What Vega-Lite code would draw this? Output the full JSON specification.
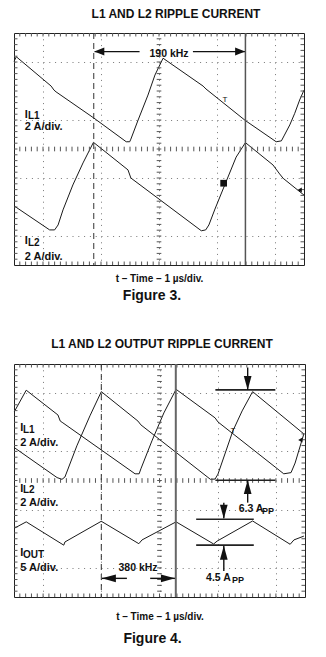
{
"$schema": "https://vega.github.io/schema/vega-lite/v6.json",
"padding": {"left": 11, "top": 7, "right": 4, "bottom": 4},
"spacing": 34,
"resolve": {"scale": {"x": "independent", "y": "independent", "shape": "independent"}},
"config": {"font": "Liberation Sans", "view": {"stroke": "#222", "strokeWidth": 1}},
"datasets": {
"xt": [{"v":0.2},{"v":0.4},{"v":0.6},{"v":0.8},{"v":1},{"v":1.2},{"v":1.4},{"v":1.6},{"v":1.8},{"v":2},{"v":2.2},{"v":2.4},{"v":2.6},{"v":2.8},{"v":3},{"v":3.2},{"v":3.4},{"v":3.6},{"v":3.8},{"v":4},{"v":4.2},{"v":4.4},{"v":4.6},{"v":4.8},{"v":5},{"v":5.2},{"v":5.4},{"v":5.6},{"v":5.8},{"v":6},{"v":6.2},{"v":6.4},{"v":6.6},{"v":6.8},{"v":7},{"v":7.2},{"v":7.4},{"v":7.6},{"v":7.8},{"v":8},{"v":8.2},{"v":8.4},{"v":8.6},{"v":8.8},{"v":9},{"v":9.2},{"v":9.4},{"v":9.6},{"v":9.8}],
"yt": [{"v":-3.8},{"v":-3.6},{"v":-3.4},{"v":-3.2},{"v":-3},{"v":-2.8},{"v":-2.6},{"v":-2.4},{"v":-2.2},{"v":-2},{"v":-1.8},{"v":-1.6},{"v":-1.4},{"v":-1.2},{"v":-1},{"v":-0.8},{"v":-0.6},{"v":-0.4},{"v":-0.2},{"v":0},{"v":0.2},{"v":0.4},{"v":0.6},{"v":0.8},{"v":1},{"v":1.2},{"v":1.4},{"v":1.6},{"v":1.8},{"v":2},{"v":2.2},{"v":2.4},{"v":2.6},{"v":2.8},{"v":3},{"v":3.2},{"v":3.4},{"v":3.6},{"v":3.8}],
"f3": [
{"s":"IL1","t":0,"a":3.02},{"s":"IL1","t":0.08,"a":3.18},{"s":"IL1","t":1.28,"a":2.17},{"s":"IL1","t":1.38,"a":2.03},{"s":"IL1","t":1.45,"a":1.97},{"s":"IL1","t":2.75,"a":1.07},{"s":"IL1","t":3.87,"a":0.25},{"s":"IL1","t":3.99,"a":0.25},{"s":"IL1","t":4.03,"a":0.34},{"s":"IL1","t":4.28,"a":1.0},{"s":"IL1","t":4.62,"a":1.86},{"s":"IL1","t":4.86,"a":2.55},{"s":"IL1","t":5.14,"a":3.13},{"s":"IL1","t":6.52,"a":2.17},{"s":"IL1","t":6.62,"a":2.07},{"s":"IL1","t":7.98,"a":0.98},{"s":"IL1","t":9.04,"a":0.25},{"s":"IL1","t":9.22,"a":0.28},{"s":"IL1","t":9.31,"a":0.45},{"s":"IL1","t":9.51,"a":0.83},{"s":"IL1","t":9.68,"a":1.23},{"s":"IL1","t":9.85,"a":1.69},{"s":"IL1","t":10,"a":2.03},
{"s":"IL2","t":0,"a":-1.96},{"s":"IL2","t":1.23,"a":-2.79},{"s":"IL2","t":1.4,"a":-2.79},{"s":"IL2","t":1.52,"a":-2.62},{"s":"IL2","t":1.69,"a":-2.1},{"s":"IL2","t":2.03,"a":-1.24},{"s":"IL2","t":2.38,"a":-0.48},{"s":"IL2","t":2.74,"a":0.23},{"s":"IL2","t":3.93,"a":-0.72},{"s":"IL2","t":4.03,"a":-1.0},{"s":"IL2","t":6.46,"a":-2.82},{"s":"IL2","t":6.61,"a":-2.79},{"s":"IL2","t":6.72,"a":-2.62},{"s":"IL2","t":6.93,"a":-2.07},{"s":"IL2","t":7.28,"a":-1.21},{"s":"IL2","t":7.66,"a":-0.28},{"s":"IL2","t":7.98,"a":0.22},{"s":"IL2","t":8.93,"a":-0.55},{"s":"IL2","t":9.16,"a":-0.86},{"s":"IL2","t":9.28,"a":-1.01},{"s":"IL2","t":10,"a":-1.59}
],
"f4": [
{"s":"IL1","t":0.01,"a":2.36},{"s":"IL1","t":0.42,"a":3.1},{"s":"IL1","t":1.51,"a":2.25},{"s":"IL1","t":1.59,"a":2.04},{"s":"IL1","t":1.68,"a":1.98},{"s":"IL1","t":4.16,"a":0.23},{"s":"IL1","t":4.3,"a":0.23},{"s":"IL1","t":4.36,"a":0.4},{"s":"IL1","t":4.74,"a":1.36},{"s":"IL1","t":5.15,"a":2.32},{"s":"IL1","t":5.57,"a":3.13},{"s":"IL1","t":6.91,"a":2.15},{"s":"IL1","t":7.01,"a":2.01},{"s":"IL1","t":9.27,"a":0.23},{"s":"IL1","t":9.52,"a":0.27},{"s":"IL1","t":9.66,"a":0.6},{"s":"IL1","t":9.96,"a":1.6},
{"s":"IL2","t":0.01,"a":1.13},{"s":"IL2","t":1.48,"a":0.1},{"s":"IL2","t":1.65,"a":0.04},{"s":"IL2","t":1.75,"a":0.12},{"s":"IL2","t":2.16,"a":1.19},{"s":"IL2","t":2.61,"a":2.22},{"s":"IL2","t":3.0,"a":3.05},{"s":"IL2","t":4.26,"a":2.04},{"s":"IL2","t":4.36,"a":1.91},{"s":"IL2","t":6.75,"a":0.04},{"s":"IL2","t":6.91,"a":0.05},{"s":"IL2","t":7.01,"a":0.22},{"s":"IL2","t":7.52,"a":1.7},{"s":"IL2","t":7.84,"a":2.39},{"s":"IL2","t":8.2,"a":3.05},{"s":"IL2","t":9.96,"a":1.6},
{"s":"IOUT","t":0.01,"a":-1.64},{"s":"IOUT","t":0.42,"a":-1.42},{"s":"IOUT","t":1.71,"a":-2.22},{"s":"IOUT","t":1.75,"a":-2.11},{"s":"IOUT","t":3.0,"a":-1.4},{"s":"IOUT","t":4.29,"a":-2.17},{"s":"IOUT","t":4.4,"a":-2.04},{"s":"IOUT","t":5.57,"a":-1.42},{"s":"IOUT","t":6.86,"a":-2.18},{"s":"IOUT","t":6.98,"a":-2.08},{"s":"IOUT","t":8.2,"a":-1.39},{"s":"IOUT","t":9.49,"a":-2.19},{"s":"IOUT","t":9.62,"a":-2.04},{"s":"IOUT","t":9.96,"a":-1.91}
]
},
"vconcat": [
{
"title": {"text": "Figure 3.", "orient": "bottom", "anchor": "middle", "baseline": "alphabetic", "offset": 15.5, "dx": -7, "fontSize": 14, "fontWeight": "bold", "color": "#111"},
"vconcat": [{
"title": {"text": "L1 AND L2 RIPPLE CURRENT", "anchor": "middle", "frame": "group", "dx": 17, "offset": 11.2, "fontSize": 12, "fontWeight": "bold", "color": "#111"},
"width": 290, "height": 232,
"layer": [
{"data": {"name": "f3"}, "mark": {"type": "line", "color": "#1a1a1a", "strokeWidth": 1},
 "encoding": {
  "x": {"field": "t", "type": "quantitative", "scale": {"domain": [0, 10], "nice": false, "zero": false},
        "axis": {"values": [1,2,3,4,5,6,7,8,9], "grid": true, "gridDash": [1, 4.8], "gridColor": "#777", "labels": false, "ticks": false, "domain": false, "title": "t – Time – 1 µs/div.", "titleFont": "Liberation Sans", "titleFontSize": 10, "titleFontWeight": "bold", "titleColor": "#111", "titlePadding": 16.7, "titleBaseline": "alphabetic"}},
  "y": {"field": "a", "type": "quantitative", "scale": {"domain": [-4, 4], "nice": false, "zero": false},
        "axis": {"values": [-3,-2,-1,0,1,2,3], "grid": true, "gridDash": [1, 4.8], "gridColor": "#777", "labels": false, "ticks": false, "domain": false, "title": null}},
  "detail": {"field": "s"}}},
{"data": {"name": "xt"}, "mark": {"type": "rule", "color": "#555"}, "encoding": {"x": {"field": "v", "type": "quantitative"}, "y": {"datum": -0.08}, "y2": {"datum": 0.08}}},
{"data": {"name": "yt"}, "mark": {"type": "rule", "color": "#555"}, "encoding": {"y": {"field": "v", "type": "quantitative"}, "x": {"datum": 4.92}, "x2": {"datum": 5.08}}},
{"data": {"name": "xt"}, "mark": {"type": "rule", "color": "#555"}, "encoding": {"x": {"field": "v", "type": "quantitative"}, "y": {"datum": -4}, "y2": {"datum": -3.88}}},
{"data": {"name": "xt"}, "mark": {"type": "rule", "color": "#555"}, "encoding": {"x": {"field": "v", "type": "quantitative"}, "y": {"datum": 4}, "y2": {"datum": 3.88}}},
{"data": {"name": "yt"}, "mark": {"type": "rule", "color": "#555"}, "encoding": {"y": {"field": "v", "type": "quantitative"}, "x": {"datum": 0}, "x2": {"datum": 0.12}}},
{"data": {"name": "yt"}, "mark": {"type": "rule", "color": "#555"}, "encoding": {"y": {"field": "v", "type": "quantitative"}, "x": {"datum": 10}, "x2": {"datum": 9.88}}},
{"data": {"values": [{"t": 2.75}]}, "mark": {"type": "rule", "color": "#333", "strokeDash": [6, 4], "strokeWidth": 1}, "encoding": {"x": {"field": "t", "type": "quantitative"}}},
{"data": {"values": [{"t": 7.98}]}, "mark": {"type": "rule", "color": "#555", "strokeWidth": 1.5}, "encoding": {"x": {"field": "t", "type": "quantitative"}}},
{"data": {"values": [{"x": 2.78, "x2": 4.33, "y": 3.36}, {"x": 6.17, "x2": 7.96, "y": 3.36}]}, "mark": {"type": "rule", "color": "#111", "strokeWidth": 1.2},
 "encoding": {"x": {"field": "x", "type": "quantitative"}, "x2": {"field": "x2"}, "y": {"field": "y", "type": "quantitative"}}},
{"data": {"values": [{"x": 2.77, "y": 3.36, "d": "left"}, {"x": 7.97, "y": 3.36, "d": "right"}]}, "mark": {"type": "point", "filled": true, "color": "#111", "opacity": 1, "size": 100},
 "encoding": {"x": {"field": "x", "type": "quantitative"}, "y": {"field": "y", "type": "quantitative"},
  "shape": {"field": "d", "type": "nominal", "legend": null, "scale": {"domain": ["left", "right"], "range": ["M0,0L2,-0.8L2,0.8Z", "M0,0L-2,-0.8L-2,0.8Z"]}}}},
{"data": {"values": [{"x": 0.369, "y": 1.086, "txt": "I"}, {"x": 0.369, "y": 0.655, "txt": "2 A/div."}, {"x": 0.369, "y": -3.276, "txt": "I"}, {"x": 0.369, "y": -3.83, "txt": "2 A/div."}]},
 "mark": {"type": "text", "align": "left", "baseline": "alphabetic", "fontSize": 11, "fontWeight": "bold", "color": "#111"},
 "encoding": {"x": {"field": "x", "type": "quantitative"}, "y": {"field": "y", "type": "quantitative"}, "text": {"field": "txt"}}},
{"data": {"values": [{"x": 0.483, "y": 1.045, "txt": "L1"}, {"x": 0.483, "y": -3.362, "txt": "L2"}]},
 "mark": {"type": "text", "align": "left", "baseline": "alphabetic", "fontSize": 10, "fontWeight": "bold", "color": "#111"},
 "encoding": {"x": {"field": "x", "type": "quantitative"}, "y": {"field": "y", "type": "quantitative"}, "text": {"field": "txt"}}},
{"data": {"values": [{"x": 5.345, "y": 3.183, "txt": "190 kHz"}]},
 "mark": {"type": "text", "align": "center", "baseline": "alphabetic", "fontSize": 10.5, "fontWeight": "bold", "color": "#111"},
 "encoding": {"x": {"field": "x", "type": "quantitative"}, "y": {"field": "y", "type": "quantitative"}, "text": {"field": "txt"}}},
{"data": {"values": [{"x": 7.27, "y": 1.69, "txt": "T"}]},
 "mark": {"type": "text", "align": "center", "baseline": "middle", "fontSize": 8, "color": "#111"},
 "encoding": {"x": {"field": "x", "type": "quantitative"}, "y": {"field": "y", "type": "quantitative"}, "text": {"field": "txt"}}},
{"data": {"values": [{"x": 7.23, "y": -1.18}]}, "mark": {"type": "square", "filled": true, "color": "#111", "opacity": 1, "size": 45},
 "encoding": {"x": {"field": "x", "type": "quantitative"}, "y": {"field": "y", "type": "quantitative"}}},
{"data": {"values": [{"x": 9.85, "y": -1.41}]}, "mark": {"type": "point", "shape": "triangle-left", "filled": true, "color": "#111", "opacity": 1, "size": 25},
 "encoding": {"x": {"field": "x", "type": "quantitative"}, "y": {"field": "y", "type": "quantitative"}}}
]
}]
},
{
"title": {"text": "Figure 4.", "orient": "bottom", "anchor": "middle", "baseline": "alphabetic", "offset": 20.6, "dx": -6.5, "fontSize": 14, "fontWeight": "bold", "color": "#111"},
"vconcat": [{
"title": {"text": "L1 AND L2 OUTPUT RIPPLE CURRENT", "anchor": "middle", "frame": "group", "dx": 2.5, "offset": 12.2, "fontSize": 12, "fontWeight": "bold", "color": "#111"},
"width": 291, "height": 233,
"layer": [
{"data": {"name": "f4"}, "mark": {"type": "line", "color": "#1a1a1a", "strokeWidth": 1},
 "encoding": {
  "x": {"field": "t", "type": "quantitative", "scale": {"domain": [0, 10], "nice": false, "zero": false},
        "axis": {"values": [1,2,3,4,5,6,7,8,9], "grid": true, "gridDash": [1, 4.8], "gridColor": "#777", "labels": false, "ticks": false, "domain": false, "title": "t – Time – 1 µs/div.", "titleFont": "Liberation Sans", "titleFontSize": 10, "titleFontWeight": "bold", "titleColor": "#111", "titlePadding": 22.5, "titleBaseline": "alphabetic"}},
  "y": {"field": "a", "type": "quantitative", "scale": {"domain": [-4, 4], "nice": false, "zero": false},
        "axis": {"values": [-3,-2,-1,0,1,2,3], "grid": true, "gridDash": [1, 4.8], "gridColor": "#777", "labels": false, "ticks": false, "domain": false, "title": null}},
  "detail": {"field": "s"}}},
{"data": {"name": "xt"}, "mark": {"type": "rule", "color": "#555"}, "encoding": {"x": {"field": "v", "type": "quantitative"}, "y": {"datum": -0.08}, "y2": {"datum": 0.08}}},
{"data": {"name": "yt"}, "mark": {"type": "rule", "color": "#555"}, "encoding": {"y": {"field": "v", "type": "quantitative"}, "x": {"datum": 4.92}, "x2": {"datum": 5.08}}},
{"data": {"name": "xt"}, "mark": {"type": "rule", "color": "#555"}, "encoding": {"x": {"field": "v", "type": "quantitative"}, "y": {"datum": -4}, "y2": {"datum": -3.88}}},
{"data": {"name": "xt"}, "mark": {"type": "rule", "color": "#555"}, "encoding": {"x": {"field": "v", "type": "quantitative"}, "y": {"datum": 4}, "y2": {"datum": 3.88}}},
{"data": {"name": "yt"}, "mark": {"type": "rule", "color": "#555"}, "encoding": {"y": {"field": "v", "type": "quantitative"}, "x": {"datum": 0}, "x2": {"datum": 0.12}}},
{"data": {"name": "yt"}, "mark": {"type": "rule", "color": "#555"}, "encoding": {"y": {"field": "v", "type": "quantitative"}, "x": {"datum": 10}, "x2": {"datum": 9.88}}},
{"data": {"values": [{"t": 3.0}]}, "mark": {"type": "rule", "color": "#333", "strokeDash": [6, 4], "strokeWidth": 1}, "encoding": {"x": {"field": "t", "type": "quantitative"}}},
{"data": {"values": [{"t": 5.56}]}, "mark": {"type": "rule", "color": "#666", "strokeWidth": 2}, "encoding": {"x": {"field": "t", "type": "quantitative"}}},
{"data": {"values": [{"x": 6.92, "x2": 8.98, "y": 3.11, "y2": 3.11}, {"x": 6.92, "x2": 8.98, "y": 0.01, "y2": 0.01}, {"x": 6.26, "x2": 8.24, "y": -1.33, "y2": -1.33}, {"x": 6.26, "x2": 8.24, "y": -2.22, "y2": -2.22}]},
 "mark": {"type": "rule", "color": "#222", "strokeWidth": 1.6},
 "encoding": {"x": {"field": "x", "type": "quantitative"}, "x2": {"field": "x2"}, "y": {"field": "y", "type": "quantitative"}, "y2": {"field": "y2"}}},
{"data": {"values": [{"x": 8.03, "x2": 8.03, "y": 3.88, "y2": 3.11}, {"x": 8.03, "x2": 8.03, "y": 0.0, "y2": -0.76}, {"x": 7.21, "x2": 7.21, "y": -0.76, "y2": -1.3}, {"x": 7.21, "x2": 7.21, "y": -2.24, "y2": -3.11}, {"x": 3.02, "x2": 3.88, "y": -3.36, "y2": -3.36}, {"x": 4.68, "x2": 5.53, "y": -3.36, "y2": -3.36}]},
 "mark": {"type": "rule", "color": "#111", "strokeWidth": 1.4},
 "encoding": {"x": {"field": "x", "type": "quantitative"}, "x2": {"field": "x2"}, "y": {"field": "y", "type": "quantitative"}, "y2": {"field": "y2"}}},
{"data": {"values": [{"x": 8.03, "y": 3.11, "d": "down"}, {"x": 8.03, "y": 0.02, "d": "up"}, {"x": 7.21, "y": -1.31, "d": "down"}, {"x": 7.21, "y": -2.24, "d": "up"}, {"x": 3.02, "y": -3.36, "d": "left"}, {"x": 5.53, "y": -3.36, "d": "right"}]},
 "mark": {"type": "point", "filled": true, "color": "#111", "opacity": 1, "size": 196},
 "encoding": {"x": {"field": "x", "type": "quantitative"}, "y": {"field": "y", "type": "quantitative"},
  "shape": {"field": "d", "type": "nominal", "legend": null, "scale": {"domain": ["left", "right", "up", "down"], "range": ["M0,0L2,-0.55L2,0.55Z", "M0,0L-2,-0.55L-2,0.55Z", "M0,0L-0.55,2L0.55,2Z", "M0,0L-0.55,-2L0.55,-2Z"]}}}},
{"data": {"values": [{"x": 0.216, "y": 1.684, "txt": "I"}, {"x": 0.216, "y": 1.186, "txt": "2 A/div."}, {"x": 0.216, "y": -0.378, "txt": "I"}, {"x": 0.216, "y": -0.876, "txt": "2 A/div."}, {"x": 0.216, "y": -2.594, "txt": "I"}, {"x": 0.216, "y": -3.11, "txt": "5 A/div."}]},
 "mark": {"type": "text", "align": "left", "baseline": "alphabetic", "fontSize": 11, "fontWeight": "bold", "color": "#111"},
 "encoding": {"x": {"field": "x", "type": "quantitative"}, "y": {"field": "y", "type": "quantitative"}, "text": {"field": "txt"}}},
{"data": {"values": [{"x": 0.309, "y": 1.643, "txt": "L1"}, {"x": 0.309, "y": -0.419, "txt": "L2"}, {"x": 0.309, "y": -2.653, "txt": "OUT"}]},
 "mark": {"type": "text", "align": "left", "baseline": "alphabetic", "fontSize": 10, "fontWeight": "bold", "color": "#111"},
 "encoding": {"x": {"field": "x", "type": "quantitative"}, "y": {"field": "y", "type": "quantitative"}, "text": {"field": "txt"}}},
{"data": {"values": [{"x": 7.72, "y": -1.072, "txt": "6.3 A"}, {"x": 6.6, "y": -3.454, "txt": "4.5 A"}]},
 "mark": {"type": "text", "align": "left", "baseline": "alphabetic", "fontSize": 10.5, "fontWeight": "bold", "color": "#111"},
 "encoding": {"x": {"field": "x", "type": "quantitative"}, "y": {"field": "y", "type": "quantitative"}, "text": {"field": "txt"}}},
{"data": {"values": [{"x": 8.52, "y": -1.15, "txt": "PP"}, {"x": 7.49, "y": -3.53, "txt": "PP"}]},
 "mark": {"type": "text", "align": "left", "baseline": "alphabetic", "fontSize": 9, "fontWeight": "bold", "color": "#111"},
 "encoding": {"x": {"field": "x", "type": "quantitative"}, "y": {"field": "y", "type": "quantitative"}, "text": {"field": "txt"}}},
{"data": {"values": [{"x": 4.261, "y": -3.11, "txt": "380 kHz"}]},
 "mark": {"type": "text", "align": "center", "baseline": "alphabetic", "fontSize": 10.5, "fontWeight": "bold", "color": "#111"},
 "encoding": {"x": {"field": "x", "type": "quantitative"}, "y": {"field": "y", "type": "quantitative"}, "text": {"field": "txt"}}},
{"data": {"values": [{"x": 7.52, "y": 1.7, "txt": "T"}]},
 "mark": {"type": "text", "align": "center", "baseline": "middle", "fontSize": 8, "color": "#111"},
 "encoding": {"x": {"field": "x", "type": "quantitative"}, "y": {"field": "y", "type": "quantitative"}, "text": {"field": "txt"}}},
{"data": {"values": [{"x": 9.84, "y": 1.39}]}, "mark": {"type": "point", "shape": "triangle-left", "filled": true, "color": "#111", "opacity": 1, "size": 25},
 "encoding": {"x": {"field": "x", "type": "quantitative"}, "y": {"field": "y", "type": "quantitative"}}}
]
}]
}
]
}
